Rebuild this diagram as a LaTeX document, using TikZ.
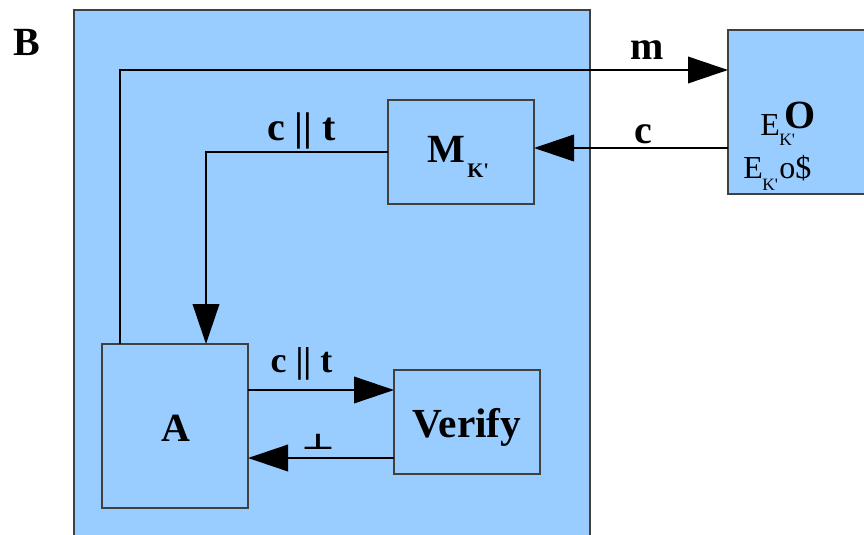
\documentclass[tikz,border=0pt]{standalone}
\usepackage{fontspec}
\setmainfont{Liberation Serif}[Ligatures=TeXOff]
\newfontfamily\djv{DejaVu Sans}
\usetikzlibrary{arrows.meta}
\definecolor{boxblue}{HTML}{99CCFF}
\begin{document}
\begin{tikzpicture}[x=0.75pt,y=-0.75pt,
  box/.style={draw=black!75,fill=boxblue,line width=1pt,inner sep=0pt,outer sep=0pt},
  arr/.style={line width=1.1pt,-{Triangle[length=30pt,width=20pt]}},
  lbl/.style={font=\fontsize{30}{34}\selectfont\bfseries,inner sep=0pt},
  lbls/.style={font=\fontsize{27}{31}\selectfont\bfseries,inner sep=0pt},
  big/.style={font=\fontsize{30}{34}\selectfont\bfseries,inner sep=0pt,anchor=base},
  etext/.style={font=\fontsize{24}{27}\selectfont,inner sep=0pt,anchor=base west},
  esub/.style={font=\fontsize{13}{14}\selectfont,inner sep=0pt,anchor=base west}]
\useasboundingbox (0,0) rectangle (864,535);
\fill[white] (0,0) rectangle (864,535);
\clip (0,0) rectangle (864,535);
\node[box,minimum width=516*0.75pt,minimum height=560*0.75pt,anchor=north west] (B) at (74,10) {};
\node[big,anchor=base west] (Blabel) at (13,56) {B};
\node[box,minimum width=150*0.75pt,minimum height=164*0.75pt,anchor=north west] (O) at (728,30) {};
\node[box,minimum width=146*0.75pt,minimum height=104*0.75pt,anchor=north west] (M) at (388,100) {};
\node[box,minimum width=146*0.75pt,minimum height=164*0.75pt,anchor=north west] (A) at (102,344) {};
\node[box,minimum width=146*0.75pt,minimum height=104*0.75pt,anchor=north west] (V) at (394,370) {};
\node[big] (Atext) at (176,441) {A};
\node[big,font=\fontsize{31}{35}\selectfont\bfseries] (Vtext) at (467,437) {Verify};
\node[big,anchor=base west] (Mtext) at (427,162) {M};
\node[big,anchor=base west,font=\fontsize{15.5}{18}\selectfont\bfseries] (Msub) at (467,177) {K'};
% O box texts
\node[etext] (E1) at (760,135) {E};
\node[esub] (K1) at (779,146) {K'};
\node[etext,font=\fontsize{30}{34}\selectfont\bfseries] (Obig) at (784,128) {O};
\node[etext] (E2) at (743,178) {E};
\node[esub] (K2) at (762,190) {K'};
\node[etext] (o2) at (779,178) {o\$};
% connectors
\draw[arr] (A.north -| 120,0) |- (O.west |- 0,70);
\draw[arr] (O.west |- 0,148) -- (M.east |- 0,148);
\draw[arr] (M.west |- 0,152) -| (A.north -| 206,0);
\draw[arr] (A.east |- 0,390) -- (V.west |- 0,390);
\draw[arr] (V.west |- 0,458) -- (A.east |- 0,458);
% labels
\node[lbl,anchor=base] (lm) at (647,60) {m};
\node[lbl,anchor=base] (lc) at (643.5,143) {c};
\node[lbl,anchor=base] (lct1) at (301.5,141) {c || t};
\node[lbls,anchor=base] (lct2) at (301.5,372) {c || t};
\node[inner sep=0pt,anchor=base] (lbot) at (318,449) {\scalebox{1}[0.6]{\djv\bfseries\fontsize{27}{30}\selectfont ⊥}};
\end{tikzpicture}
\end{document}
